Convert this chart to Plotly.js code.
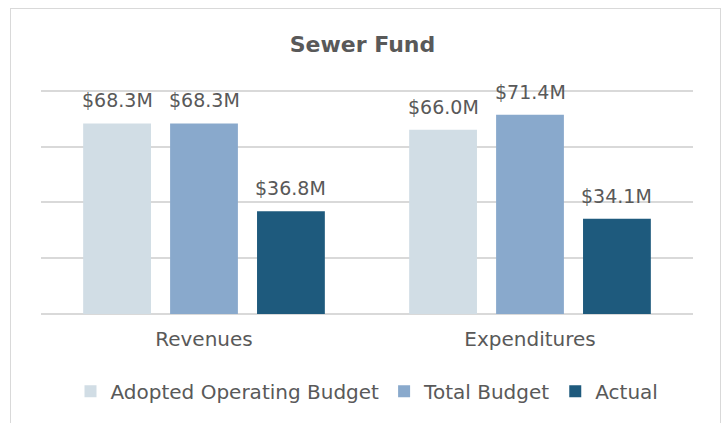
<!DOCTYPE html>
<html>
<head>
<meta charset="utf-8">
<script src="https://cdn.plot.ly/plotly-3.0.1.min.js"></script>
<style>
  body { margin: 0; background: #fff; }
  #frame {
    position: absolute; left: 10px; top: 8px; width: 711px; height: 430px;
    border: 1px solid #d9d9d9; box-sizing: border-box;
  }
  #chart { position: absolute; left: 0; top: 0; width: 725px; height: 423px; }
</style>
</head>
<body>
<div id="frame"></div>
<div id="chart"></div>
<script>
const categories = ['Revenues', 'Expenditures'];
const seriesNames = ['Adopted Operating Budget', 'Total Budget', 'Actual'];
const adoptedBudget = [68.3, 66.0];
const totalBudget = [68.3, 71.4];
const actual = [36.8, 34.1];
const seriesColors = ['#d1dde5', '#89a9cc', '#1e5a7d'];

const W = 725;
const H = 423;
const margin = { l: 41, r: 32, t: 88, b: 109 };
const bargap = 0.2;
const FONT = 'DejaVu Sans, sans-serif';
const TEXT = '#595959';

const allSeries = [adoptedBudget, totalBudget, actual];

const traces = allSeries.map((vals, i) => ({
  type: 'bar',
  name: seriesNames[i],
  x: categories,
  y: vals,
  marker: { color: seriesColors[i] },
  hoverinfo: 'skip',
}));

// slot width of one bar inside a group, used to put the labels over their bar
const plotW = W - margin.l - margin.r;
const slot = (plotW / categories.length) * (1 - bargap) / allSeries.length;

const annotations = [];
allSeries.forEach((vals, i) => {
  vals.forEach((v, j) => {
    annotations.push({
      x: categories[j],
      y: v,
      xref: 'x',
      yref: 'y',
      text: '$' + v.toFixed(1) + 'M',
      showarrow: false,
      xanchor: 'center',
      yanchor: 'bottom',
      xshift: (i - 1) * slot,
      yshift: 10,
      font: { family: FONT, size: 19, color: TEXT },
    });
  });
});

const layout = {
  width: W,
  height: H,
  margin: margin,
  title: {
    text: 'Sewer Fund',
    font: { family: FONT, size: 22, color: TEXT, weight: 'bold' },
    x: 0.5,
    xanchor: 'center',
    y: 0.895,
    yanchor: 'middle',
  },
  barmode: 'group',
  bargap: bargap,
  bargroupgap: 0.22,
  xaxis: {
    type: 'category',
    showgrid: false,
    showline: false,
    zeroline: false,
    ticks: '',
    ticklabelstandoff: 11,
    tickfont: { family: FONT, size: 20, color: TEXT },
  },
  yaxis: {
    range: [0, 81],
    dtick: 20,
    showticklabels: false,
    showgrid: true,
    gridcolor: '#d9d9d9',
    gridwidth: 2,
    zeroline: true,
    zerolinecolor: '#d9d9d9',
    zerolinewidth: 2,
  },
  legend: {
    orientation: 'h',
    x: 0.5,
    xanchor: 'center',
    y: -0.342,
    yanchor: 'middle',
    font: { family: FONT, size: 20, color: TEXT },
    itemclick: false,
  },
  annotations: annotations,
  plot_bgcolor: 'rgba(0,0,0,0)',
  paper_bgcolor: 'rgba(0,0,0,0)',
  showlegend: true,
};

Plotly.newPlot('chart', traces, layout, { staticPlot: true, displayModeBar: false });
</script>
</body>
</html>
